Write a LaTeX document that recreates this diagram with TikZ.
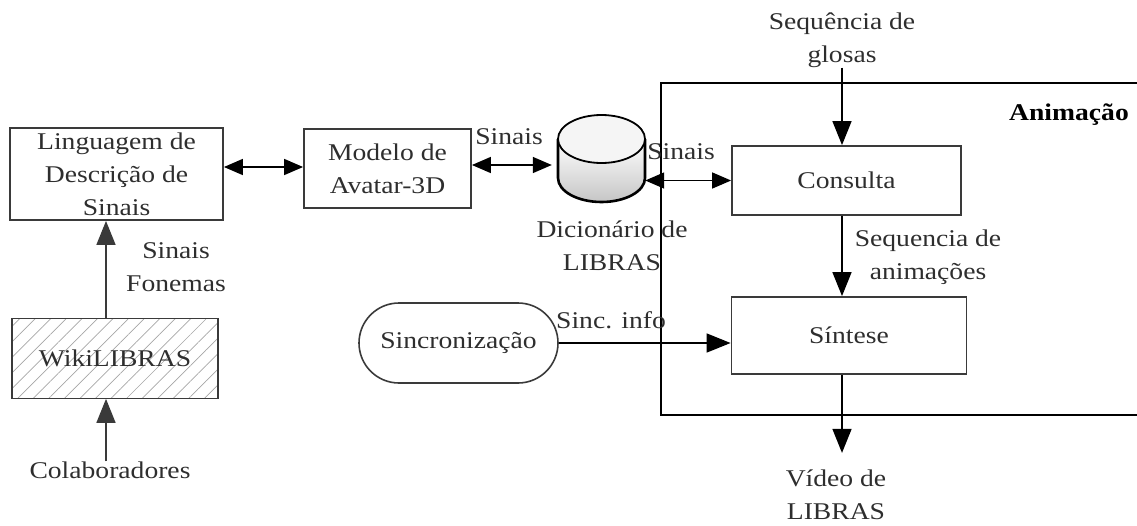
\documentclass[tikz,border=0pt]{standalone}
\usepackage{fontspec}
\setmainfont{Liberation Serif}[FakeStretch=1.15]
\usetikzlibrary{arrows.meta,shapes.misc,patterns.meta}

\definecolor{ink}{HTML}{2E2E2E}
\definecolor{edge}{HTML}{3A3A3A}

\begin{document}
\begin{tikzpicture}[x=1pt,y=-1pt,
  every node/.style={font=\fontsize{24}{33}\selectfont, text=ink, inner sep=0pt},
  block/.style={draw=edge, line width=1.8pt, rectangle, align=center},
  lbl/.style={align=center},
  tip/.style={-{Triangle[length=24pt,width=19pt]}, line width=1.5pt, draw=black},
  biarrow/.style={{Triangle[length=19pt,width=16pt]}-{Triangle[length=19pt,width=16pt]}, line width=1.5pt, draw=black},
]
\useasboundingbox (0,0) rectangle (1137,525);

% Animation frame, open to the right
\draw[line width=1.5pt, black] (1140,83) -- (661,83) -- (661,415) -- (1140,415);
\node[font=\fontsize{24}{33}\selectfont\bfseries, text=black] (anim) at (1069,115) {Animação};

% Blocks
\node[block, minimum width=213pt, minimum height=92pt] (ling) at (116.5,174) {Linguagem de\\Descrição de\\Sinais};
\node[block, minimum width=167pt, minimum height=79pt] (mod) at (387.5,168.5) {Modelo de\\Avatar-3D};
\node[block, minimum width=229pt, minimum height=69pt] (cons) at (846.5,180.5) {Consulta};
\node[block, minimum width=235pt, minimum height=77pt] (sint) at (849,335.5) {Síntese};
\node[draw=edge, line width=1.6pt, rounded rectangle, minimum width=199pt, minimum height=80pt] (sync) at (458.5,343) {Sincronização};
\node[block, minimum width=206pt, minimum height=80pt,
      pattern={Lines[angle=45,distance=11pt,line width=0.7pt]}, pattern color=gray!70] (wiki) at (115,358.5) {};
\node at (wiki) {WikiLIBRAS};

% Dictionary drawn as a cylinder
\node[minimum width=87pt, minimum height=87pt] (dict) at (601.5,158.5) {};
\path[top color=white, bottom color=gray!45]
  (558,139) -- (558,178) arc[start angle=180, end angle=360, x radius=43.5pt, y radius=24pt] -- (645,139) -- cycle;
\draw[line width=2.6pt, black]
  (558,139) -- (558,178) arc[start angle=180, end angle=360, x radius=43.5pt, y radius=24pt] -- (645,139);
\draw[line width=1.8pt, black, fill=gray!8] (601.5,139) ellipse[x radius=43.5pt, y radius=24pt];

% Text labels
\node[lbl] (dictlbl) at (612,246) {Dicionário de\\LIBRAS};
\node[lbl] (glosas) at (842,40) {Sequência de\\glosas};
\node[lbl] (video) at (836,495) {Vídeo de\\LIBRAS};
\node[lbl] (colab) at (110,470) {Colaboradores};
\node[lbl] (fon) at (176,267) {Sinais\\Fonemas};
\node[lbl] (sin1) at (509,137) {Sinais};
\node[lbl] (sin2) at (681,152) {Sinais};
\node[lbl] (seqan) at (928,257) {Sequencia de\\animações};
\node[lbl] (sinc) at (611,320) {Sinc. info};

% Connectors
\draw[biarrow] ([yshift=7pt]ling.east) -- ([yshift=7pt]ling.east -| mod.west);
\draw[biarrow, shorten >=6pt] ([yshift=3.5pt]mod.east) -- ([yshift=3.5pt]mod.east -| dict.west);
\draw[biarrow] (dict.east |- cons.west) -- (cons.west);
\draw[tip] (glosas.south) -- (glosas.south |- cons.north);
\draw[tip] ([xshift=-4.5pt]cons.south) -- ([xshift=-4.5pt]cons.south |- sint.north);
\draw[tip] (sync.east) -- (sync.east -| sint.west);
\draw[tip] ([xshift=-7pt]sint.south) -- ([xshift=-7pt,yshift=-78pt]sint.south);
\draw[tip, draw=edge] ([xshift=-4pt]colab.north) -- ([xshift=-4pt]colab.north |- wiki.south);
\draw[tip, draw=edge] ([xshift=-9pt]wiki.north) -- ([xshift=-9pt]wiki.north |- ling.south);
\end{tikzpicture}
\end{document}
